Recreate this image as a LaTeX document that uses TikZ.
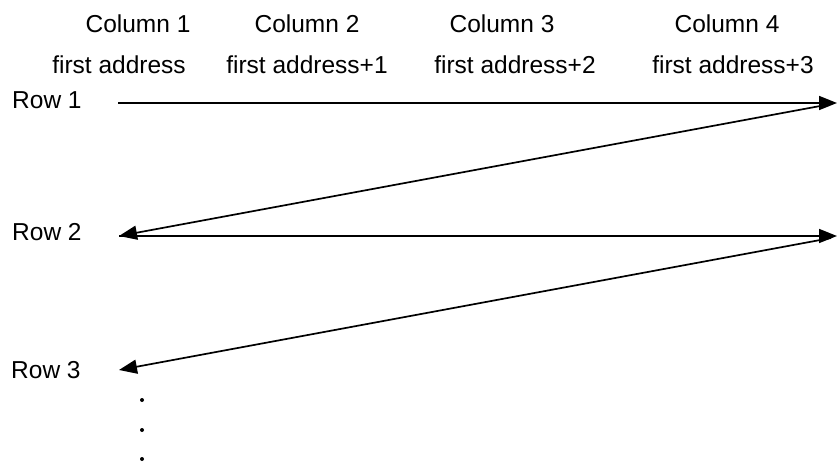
\documentclass[tikz,border=0pt]{standalone}
\usepackage{fontspec}
\setmainfont{Liberation Sans}
\usetikzlibrary{arrows.meta}
\begin{document}
\begin{tikzpicture}[x=1pt,y=-1pt,
  lbl/.style={inner sep=0pt,font=\fontsize{24.5}{28}\selectfont},
  conn/.style={line width=1.7pt,-{Triangle[length=18pt,width=14pt]}},
  dotm/.style={circle,fill=black,inner sep=0pt,minimum size=4pt}]
\useasboundingbox (0,0) rectangle (837,463);
\node[lbl,anchor=base] (c1) at (138,32) {Column 1};
\node[lbl,anchor=base] (c2) at (307,32) {Column 2};
\node[lbl,anchor=base] (c3) at (502,32) {Column 3};
\node[lbl,anchor=base] (c4) at (727,32) {Column 4};
\node[lbl,anchor=base] (a1) at (119,73) {first address};
\node[lbl,anchor=base] (a2) at (307,73) {first address+1};
\node[lbl,anchor=base] (a3) at (515,73) {first address+2};
\node[lbl,anchor=base] (a4) at (733,73) {first address+3};
\node[lbl,anchor=base west] (r1) at (12,108) {Row 1};
\node[lbl,anchor=base west] (r2) at (12,240) {Row 2};
\node[lbl,anchor=base west] (r3) at (11,378) {Row 3};
\coordinate (s1) at (118,103);
\coordinate (e1) at (837,103);
\coordinate (d1) at (831,104);
\coordinate (s2) at (119,236);
\coordinate (e2) at (837,236);
\coordinate (d2) at (831,238);
\coordinate (s3) at (119,370);
\draw[conn] (s1) -- (e1);
\draw[conn] (d1) -- (s2);
\draw[conn] (s2) -- (e2);
\draw[conn] (d2) -- (s3);
\node[dotm] (p1) at (142,400) {};
\node[dotm] (p2) at (142,430) {};
\node[dotm] (p3) at (142,459) {};
\end{tikzpicture}
\end{document}
